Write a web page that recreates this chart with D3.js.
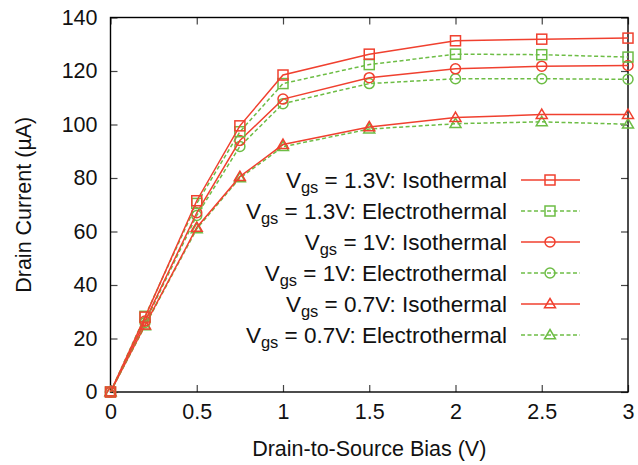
<!DOCTYPE html>
<html><head><meta charset="utf-8">
<script src="https://cdn.jsdelivr.net/npm/d3@7"></script>
<style>body{margin:0;background:#fff}svg{display:block}text{font-family:"Liberation Sans",Arial,Helvetica,sans-serif}</style>
</head><body><svg id="c" width="638" height="465"></svg>
<script>
const biasV = [0, 0.2, 0.5, 0.75, 1, 1.5, 2, 2.5, 3];
const iso13 = [0, 28.0, 71.5, 99.5, 118.5, 126.3, 131.3, 131.9, 132.3];
const ele13 = [0, 28.3, 70.5, 97.3, 115.3, 122.4, 126.3, 126.1, 125.2];
const iso10 = [0, 26.5, 67.0, 94.0, 109.5, 117.5, 120.8, 121.8, 122.1];
const ele10 = [0, 26.0, 66.0, 91.8, 107.8, 115.3, 117.1, 117.1, 116.9];
const iso07 = [0, 25.0, 61.5, 80.5, 92.5, 99.1, 102.6, 103.7, 103.7];
const ele07 = [0, 24.7, 61.0, 80.0, 91.7, 98.3, 100.3, 101.0, 100.1];
const xTicks = [0, 0.5, 1, 1.5, 2, 2.5, 3];
const yTicks = [0, 20, 40, 60, 80, 100, 120, 140];
const seriesNames = ["1.3V: Isothermal", "1.3V: Electrothermal", "1V: Isothermal", "1V: Electrothermal", "0.7V: Isothermal", "0.7V: Electrothermal"];

const RED = "#f0402f", GREEN = "#6dbd45";
const series = [
  {name: seriesNames[0], vals: iso13, color: RED, dash: null, marker: "square"},
  {name: seriesNames[1], vals: ele13, color: GREEN, dash: "4,2.5", marker: "square"},
  {name: seriesNames[2], vals: iso10, color: RED, dash: null, marker: "circle"},
  {name: seriesNames[3], vals: ele10, color: GREEN, dash: "4,2.5", marker: "circle"},
  {name: seriesNames[4], vals: iso07, color: RED, dash: null, marker: "triangle"},
  {name: seriesNames[5], vals: ele07, color: GREEN, dash: "4,2.5", marker: "triangle"}
];

const svg = d3.select("#c");
const L = 110.5, R = 628, T = 17.5, B = 392;
const x = d3.scaleLinear().domain([0, 3]).range([L, R]);
const y = d3.scaleLinear().domain([0, 140]).range([B, T]);
const FS = 21.5;

const tl = 7;
const gAx = svg.append("g");
gAx.append("g").attr("transform", `translate(0,${B})`)
  .call(d3.axisBottom(x).tickValues(xTicks).tickSize(-tl).tickPadding(12).tickFormat(d3.format("~g")));
gAx.append("g").attr("transform", `translate(0,${T})`)
  .call(d3.axisTop(x).tickValues(xTicks).tickSize(-tl).tickFormat(""));
gAx.append("g").attr("transform", `translate(${L},0)`)
  .call(d3.axisLeft(y).tickValues(yTicks).tickSize(-tl).tickPadding(13).tickFormat(d3.format("~g")));
gAx.append("g").attr("transform", `translate(${R},0)`)
  .call(d3.axisRight(y).tickValues(yTicks).tickSize(-tl).tickFormat(""));
gAx.selectAll(".domain").remove();
gAx.selectAll(".tick line").attr("stroke", "#444").attr("stroke-width", 1.2);
gAx.selectAll(".tick text").attr("font-size", FS).attr("fill", "#111")
  .attr("font-family", '"Liberation Sans",Arial,sans-serif');

svg.append("rect").attr("x", L).attr("y", T).attr("width", R - L).attr("height", B - T)
  .attr("fill", "none").attr("stroke", "#000").attr("stroke-width", 1.4);

svg.append("text").attr("x", (L + R) / 2).attr("y", 456).attr("text-anchor", "middle")
  .attr("font-size", FS).attr("fill", "#111").text("Drain-to-Source Bias (V)");
svg.append("text").attr("transform", `translate(31,${(T + B) / 2}) rotate(-90)`).attr("text-anchor", "middle")
  .attr("font-size", FS).attr("fill", "#111").text("Drain Current (\u00b5A)");

function drawMarker(g, type, cx, cy, color) {
  if (type === "square") {
    g.append("rect").attr("x", cx - 5).attr("y", cy - 5).attr("width", 10).attr("height", 10)
      .attr("fill", "none").attr("stroke", color).attr("stroke-width", 1.5);
  } else if (type === "circle") {
    g.append("circle").attr("cx", cx).attr("cy", cy).attr("r", 5)
      .attr("fill", "none").attr("stroke", color).attr("stroke-width", 1.5);
  } else {
    const s = 5.5;
    g.append("path").attr("d", `M${cx},${cy - s}L${cx + s},${cy + s * 0.7}L${cx - s},${cy + s * 0.7}Z`)
      .attr("fill", "none").attr("stroke", color).attr("stroke-width", 1.5);
  }
}

const line = d3.line().x(d => x(d[0])).y(d => y(d[1]));
const order = [5, 4, 3, 2, 1, 0];
order.forEach(i => {
  const s = series[i];
  const pts = biasV.map((v, k) => [v, s.vals[k]]);
  const g = svg.append("g");
  g.append("path").attr("d", line(pts)).attr("fill", "none").attr("stroke", s.color)
    .attr("stroke-width", 1.5).attr("stroke-dasharray", s.dash);
  pts.forEach(p => drawMarker(g, s.marker, x(p[0]), y(p[1]), s.color));
});

const lg = svg.append("g");
const rowY0 = 180, rowH = 31, textRight = 507, lx1 = 521, lx2 = 580, mx = 550;
series.forEach((s, i) => {
  const yy = rowY0 + i * rowH;
  const t = lg.append("text").attr("x", textRight).attr("y", yy + 7.5).attr("text-anchor", "end")
    .attr("font-size", 22.5).attr("fill", "#111");
  t.append("tspan").text("V");
  t.append("tspan").attr("font-size", 16.5).attr("dy", 5.5).text("gs");
  t.append("tspan").attr("dy", -5.5).text(" = " + s.name);
  lg.append("line").attr("x1", lx1).attr("x2", lx2).attr("y1", yy).attr("y2", yy)
    .attr("stroke", s.color).attr("stroke-width", 1.5).attr("stroke-dasharray", s.dash);
  drawMarker(lg, s.marker, mx, yy, s.color);
});
</script></body></html>
